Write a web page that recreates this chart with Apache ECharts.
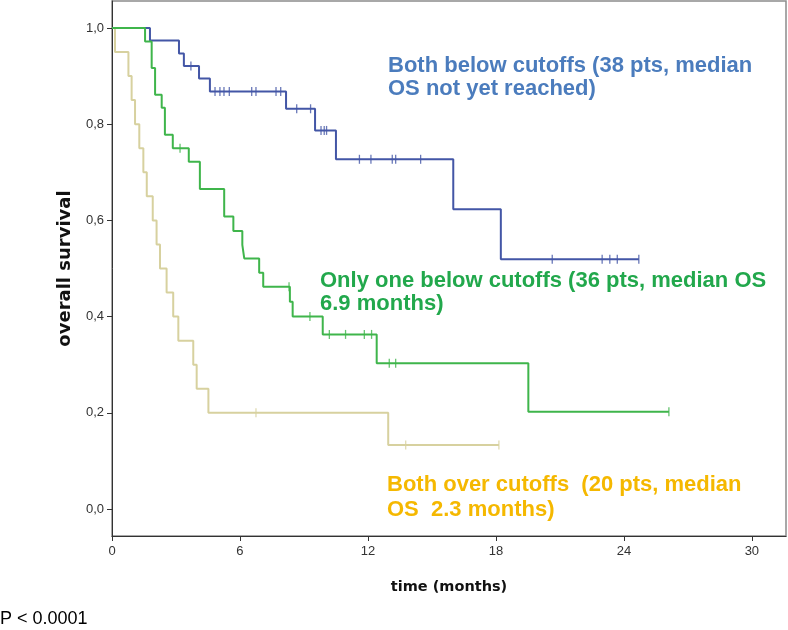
<!DOCTYPE html>
<html>
<head>
<meta charset="utf-8">
<script src="https://cdn.jsdelivr.net/npm/echarts@6/dist/echarts.min.js"></script>
<style>
html,body{margin:0;padding:0;background:#fff;}
#chart{width:788px;height:630px;}
</style>
</head>
<body>
<div id="chart"></div>
<script>
// ---- data ----
var xTickValues = [0, 6, 12, 18, 24, 30];
var yTickValues = [0, 0.2, 0.4, 0.6, 0.8, 1.0];

// Both below cutoffs (blue)
var blueTimes = [0, 1.78, 3.14, 3.37, 4.08, 4.59, 8.16, 9.52, 10.5, 16.0, 18.23, 24.7];
var blueSurv  = [1, 0.974, 0.947, 0.921, 0.895, 0.868, 0.832, 0.787, 0.727, 0.623, 0.519, 0.519];
var blueCensor = [3.7, 4.83, 5.06, 5.25, 5.5, 6.55, 6.75, 7.69, 7.91, 8.66, 9.31, 9.8, 9.95, 10.06,
                  11.6, 12.14, 13.14, 13.3, 14.47, 20.64, 22.98, 23.34, 23.69, 24.7];

// Only one below cutoffs (green)
var greenTimes = [0, 1.55, 1.86, 2.02, 2.33, 2.48, 2.85, 3.6, 4.12, 5.26, 5.69, 6.11, 6.2, 6.9, 7.09,
                  8.34, 8.47, 9.88, 12.41, 19.52, 26.11];
var greenSurv  = [1, 0.972, 0.917, 0.861, 0.834, 0.778, 0.75, 0.722, 0.665, 0.608, 0.578, 0.549, 0.521,
                  0.491, 0.462, 0.431, 0.40, 0.363, 0.303, 0.202, 0.202];
var greenCensor = [3.19, 8.3, 9.28, 10.19, 10.95, 11.83, 12.17, 13.0, 13.3, 26.11];

// Both over cutoffs (yellow)
var yellowTimes = [0, 0.14, 0.77, 0.92, 1.08, 1.28, 1.47, 1.63, 1.91, 2.09, 2.25, 2.56, 2.87, 3.11,
                   3.81, 3.97, 4.52, 12.95, 18.14];
var yellowSurv  = [1, 0.95, 0.90, 0.85, 0.80, 0.75, 0.70, 0.65, 0.60, 0.55, 0.50, 0.45, 0.40, 0.35,
                   0.30, 0.25, 0.20, 0.133, 0.133];
var yellowCensor = [6.75, 13.77, 18.14];

// ---- helpers ----
function zip(t, s) { return t.map(function (v, i) { return [v, s[i]]; }); }
function survAt(t, s, x) {
  var v = s[0];
  for (var i = 0; i < t.length; i++) { if (t[i] <= x) v = s[i]; }
  return v;
}
function censorPts(t, s, c) { return c.map(function (x) { return [x, survAt(t, s, x)]; }); }

var colBlue = '#4356a6', colGreen = '#3fb54b', colYellow = '#d7d19f';

function stepSeries(name, data, color, z) {
  return { name: name, type: 'line', step: 'end', data: data, showSymbol: false, symbol: 'none',
           lineStyle: { color: color, width: 2 }, z: z, animation: false, silent: true };
}
function censorSeries(name, data, color, z) {
  return { name: name, type: 'scatter', data: data, symbol: 'rect', symbolSize: [1.3, 9],
           itemStyle: { color: color }, z: z, animation: false, silent: true };
}

var font = '"Liberation Sans", Arial, sans-serif';
var titleFont = '"DejaVu Sans", Verdana, sans-serif';
var chart = echarts.init(document.getElementById('chart'), null, { renderer: 'canvas' });
chart.setOption({
  animation: false,
  backgroundColor: '#fff',
  grid: { left: 112, top: 1, right: 2, bottom: 94, show: true, borderColor: '#8c8c8c', borderWidth: 1.5, backgroundColor: 'transparent' },
  xAxis: {
    type: 'value', min: 0, max: 31.6,
    name: 'time (months)', nameLocation: 'middle', nameGap: 44,
    nameTextStyle: { fontFamily: titleFont, fontWeight: 'bold', fontSize: 14.5, color: '#111' },
    axisLine: { show: true, onZero: false, lineStyle: { color: '#333', width: 1 } },
    axisTick: { show: true, length: 5, lineStyle: { color: '#333' }, customValues: xTickValues },
    axisLabel: { customValues: xTickValues, margin: 9, fontFamily: font, fontSize: 13, color: '#333' },
    splitLine: { show: false }
  },
  yAxis: {
    type: 'value', min: -0.056, max: 1.056,
    name: 'overall survival', nameLocation: 'middle', nameGap: 38,
    nameTextStyle: { fontFamily: titleFont, fontWeight: 'bold', fontSize: 18, color: '#111' },
    axisLine: { show: true, onZero: false, lineStyle: { color: '#333', width: 1 } },
    axisTick: { show: true, length: 5, lineStyle: { color: '#333' }, customValues: yTickValues },
    axisLabel: { customValues: yTickValues, margin: 8, fontFamily: font, fontSize: 13, color: '#333',
                 formatter: function (v) { return v.toFixed(1).replace('.', ','); } },
    splitLine: { show: false }
  },
  series: [
    stepSeries('yellow', zip(yellowTimes, yellowSurv), colYellow, 2),
    censorSeries('yellowC', censorPts(yellowTimes, yellowSurv, yellowCensor), colYellow, 3),
    stepSeries('blue', zip(blueTimes, blueSurv), colBlue, 4),
    censorSeries('blueC', censorPts(blueTimes, blueSurv, blueCensor), colBlue, 5),
    stepSeries('green', zip(greenTimes, greenSurv), colGreen, 6),
    censorSeries('greenC', censorPts(greenTimes, greenSurv, greenCensor), colGreen, 7)
  ],
  graphic: [
    { type: 'text', left: 388, top: 54, style: { text: 'Both below cutoffs (38 pts, median\nOS not yet reached)', fill: '#4b7cbd', font: 'bold 22px ' + font, lineHeight: 23 } },
    { type: 'text', left: 320, top: 269, style: { text: 'Only one below cutoffs (36 pts, median OS\n6.9 months)', fill: '#22a84c', font: 'bold 22px ' + font, lineHeight: 23 } },
    { type: 'text', left: 387, top: 472, style: { text: 'Both over cutoffs  (20 pts, median\nOS  2.3 months)', fill: '#f5b800', font: 'bold 22px ' + font, lineHeight: 25 } },
    { type: 'text', left: 0, top: 610, style: { text: 'P < 0.0001', fill: '#000', font: '18px ' + font } }
  ]
});
</script>
</body>
</html>
